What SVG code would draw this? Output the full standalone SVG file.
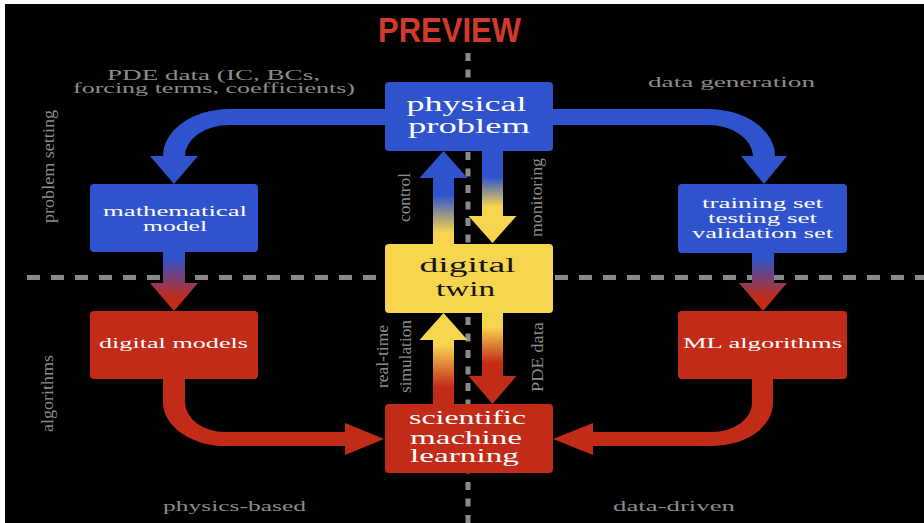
<svg xmlns="http://www.w3.org/2000/svg" width="924" height="523" viewBox="0 0 924 523">
<defs>
<style>
.blue{fill:#2f53cd}
.red{fill:#c32b19}
.yellow{fill:#f7d54e}
.lbl{font-family:"Liberation Serif","DejaVu Serif",serif;fill:#8c8c8c;font-size:14px}
.vl{font-family:"Liberation Serif","DejaVu Serif",serif;fill:#8c8c8c;font-size:16px}
.bt{font-family:"Liberation Serif","DejaVu Serif",serif;fill:#ffffff}
.dk{fill:#141414}
.dash{stroke:#8a8a8a;stroke-width:5;fill:none}
</style>
<linearGradient id="gBR" gradientUnits="userSpaceOnUse" x1="0" y1="258" x2="0" y2="298"><stop offset="0" stop-color="#2f53cd"/><stop offset="1" stop-color="#c32b19"/></linearGradient>
<linearGradient id="gCtl" gradientUnits="userSpaceOnUse" x1="0" y1="233" x2="0" y2="195"><stop offset="0" stop-color="#f7d54e"/><stop offset="1" stop-color="#2f53cd"/></linearGradient>
<linearGradient id="gMon" gradientUnits="userSpaceOnUse" x1="0" y1="177" x2="0" y2="207"><stop offset="0" stop-color="#2f53cd"/><stop offset="1" stop-color="#f7d54e"/></linearGradient>
<linearGradient id="gRt" gradientUnits="userSpaceOnUse" x1="0" y1="387" x2="0" y2="345"><stop offset="0" stop-color="#c32b19"/><stop offset="1" stop-color="#f7d54e"/></linearGradient>
<linearGradient id="gPde" gradientUnits="userSpaceOnUse" x1="0" y1="327" x2="0" y2="363"><stop offset="0" stop-color="#f7d54e"/><stop offset="1" stop-color="#c32b19"/></linearGradient>
</defs>
<rect x="0" y="0" width="924" height="523" fill="#ffffff"/>
<rect x="5" y="4" width="919" height="519" fill="#000000"/>
<text x="378" y="42" font-family="Liberation Sans, Arial, sans-serif" font-weight="bold" font-size="35" fill="#d3392b" textLength="143" lengthAdjust="spacingAndGlyphs">PREVIEW</text>
<g id="grid">
<line class="dash" x1="468" y1="53" x2="468" y2="523" stroke-dasharray="8 8.5"/>
<line class="dash" x1="27" y1="277.5" x2="924" y2="277.5" stroke-dasharray="13 11"/>
</g>
<g id="labels">
<text class="lbl" font-size="13" x="107" y="79.5" textLength="213" lengthAdjust="spacingAndGlyphs">PDE data (IC, BCs,</text>
<text class="lbl" font-size="13" x="73" y="93" textLength="282" lengthAdjust="spacingAndGlyphs">forcing terms, coefficients)</text>
<text class="lbl" x="648" y="87" textLength="167" lengthAdjust="spacingAndGlyphs">data generation</text>
<text class="lbl" x="163" y="510.5" textLength="143" lengthAdjust="spacingAndGlyphs">physics-based</text>
<text class="lbl" x="613" y="510.5" textLength="122" lengthAdjust="spacingAndGlyphs">data-driven</text>
<text class="vl" transform="translate(54,223) rotate(-90)" textLength="113" lengthAdjust="spacingAndGlyphs">problem setting</text>
<text class="vl" transform="translate(53,432) rotate(-90)" textLength="77" lengthAdjust="spacingAndGlyphs">algorithms</text>
<text class="vl" font-size="17" transform="translate(409.5,222) rotate(-90)" textLength="49" lengthAdjust="spacingAndGlyphs">control</text>
<text class="vl" font-size="17" transform="translate(542,237) rotate(-90)" textLength="79" lengthAdjust="spacingAndGlyphs">monitoring</text>
<text class="vl" font-size="17" transform="translate(388,388) rotate(-90)" textLength="63" lengthAdjust="spacingAndGlyphs">real-time</text>
<text class="vl" font-size="17" transform="translate(410.5,393) rotate(-90)" textLength="73" lengthAdjust="spacingAndGlyphs">simulation</text>
<text class="vl" font-size="17" transform="translate(543,392) rotate(-90)" textLength="70" lengthAdjust="spacingAndGlyphs">PDE data</text>
</g>
<g id="connectors">
<path class="blue" d="M385,109 H230 A67,47 0 0 0 163,156 H150 L174,184 L198,156 H185 A45,31 0 0 1 230,125 H385 Z"/>
<path class="blue" d="M552,109 H708 A67,47 0 0 1 775,156 H787 L764,184 L741,156 H753 A45,32 0 0 0 708,125 H552 Z"/>
<path fill="url(#gBR)" d="M163,252 H185 V283 H198 L174,311 L150,283 H163 Z"/>
<path fill="url(#gBR)" d="M752,253 H774 V283 H787 L763,311 L739,283 H752 Z"/>
<path fill="url(#gCtl)" d="M433,244 V178 H419.5 L443.5,151 L467.5,178 H454 V244 Z"/>
<path fill="url(#gMon)" d="M482,151 H503 V216 H516.5 L492.5,243 L468.5,216 H482 Z"/>
<path fill="url(#gRt)" d="M433,404 V340 H419.5 L443.5,313 L467.5,340 H454 V404 Z"/>
<path fill="url(#gPde)" d="M482,313 H503 V376 H516.5 L492.5,404 L468.5,376 H482 Z"/>
<path class="red" d="M163,379 H185 V402 A40,30 0 0 0 225,432 H345 V423 L384,439 L345,455 V446 H225 A62,44 0 0 1 163,402 Z"/>
<path class="red" d="M773,379 H752 V403 A40,29 0 0 1 712,432 H593 V423 L553,439 L593,455 V446 H712 A61,43 0 0 0 773,403 Z"/>
</g>
<g id="physical-problem">
<rect class="blue" x="385" y="82" width="168" height="69" rx="4"/>
<text class="bt" font-size="20" x="406.5" y="111" textLength="120" lengthAdjust="spacingAndGlyphs">physical</text>
<text class="bt" font-size="20" x="408" y="133" textLength="122" lengthAdjust="spacingAndGlyphs">problem</text>
</g>
<g id="mathematical-model">
<rect class="blue" x="90" y="184" width="168" height="68" rx="4"/>
<text class="bt" font-size="15" x="103" y="216" textLength="144" lengthAdjust="spacingAndGlyphs">mathematical</text>
<text class="bt" font-size="15" x="143" y="231" textLength="64" lengthAdjust="spacingAndGlyphs">model</text>
</g>
<g id="datasets">
<rect class="blue" x="678" y="184" width="169" height="69" rx="4"/>
<text class="bt" font-size="15" x="702" y="208" textLength="121" lengthAdjust="spacingAndGlyphs">training set</text>
<text class="bt" font-size="15" x="708" y="223" textLength="109" lengthAdjust="spacingAndGlyphs">testing set</text>
<text class="bt" font-size="15" x="692" y="238" textLength="141" lengthAdjust="spacingAndGlyphs">validation set</text>
</g>
<g id="digital-twin">
<rect class="yellow" x="385" y="244" width="168" height="69" rx="4"/>
<text class="bt dk" font-size="20" x="419.5" y="272" textLength="96" lengthAdjust="spacingAndGlyphs">digital</text>
<text class="bt dk" font-size="20" x="436" y="296" textLength="59" lengthAdjust="spacingAndGlyphs">twin</text>
</g>
<g id="digital-models">
<rect class="red" x="90" y="311" width="168" height="68" rx="4"/>
<text class="bt" font-size="15" x="99" y="348" textLength="149" lengthAdjust="spacingAndGlyphs">digital models</text>
</g>
<g id="ml-algorithms">
<rect class="red" x="678" y="311" width="169" height="68" rx="4"/>
<text class="bt" font-size="15" x="683" y="348" textLength="159" lengthAdjust="spacingAndGlyphs">ML algorithms</text>
</g>
<g id="sciml">
<rect class="red" x="385" y="404" width="168" height="69" rx="4"/>
<text class="bt" font-size="18" x="409" y="424" textLength="117" lengthAdjust="spacingAndGlyphs">scientific</text>
<text class="bt" font-size="18" x="410" y="443.5" textLength="112" lengthAdjust="spacingAndGlyphs">machine</text>
<text class="bt" font-size="18" x="410" y="462" textLength="109" lengthAdjust="spacingAndGlyphs">learning</text>
</g>
</svg>
